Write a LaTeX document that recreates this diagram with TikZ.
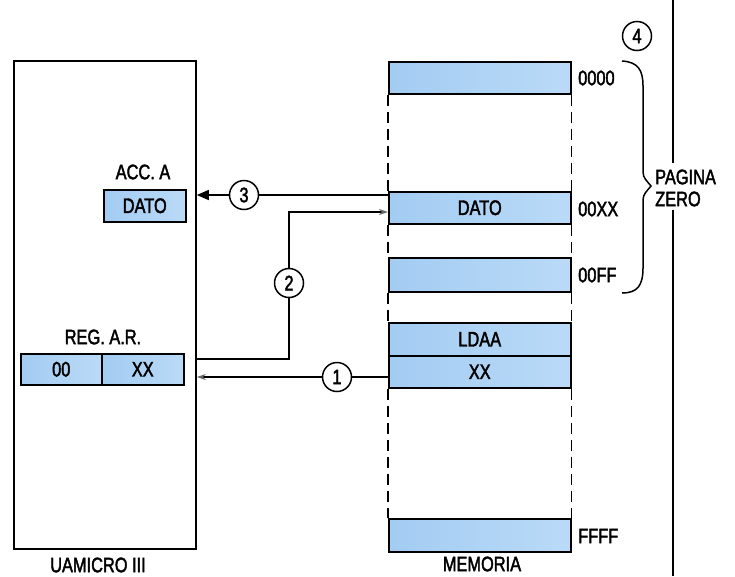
\documentclass[tikz,border=0pt]{standalone}
\usepackage{fontspec}
\setmainfont{Liberation Sans}[FakeStretch=0.78,FakeBold=2]
\usetikzlibrary{arrows.meta}
\definecolor{blueA}{RGB}{163,204,242}
\definecolor{blueB}{RGB}{186,218,247}
\tikzset{
  txt/.style={font=\fontsize{21}{24}\selectfont, inner sep=0pt},
  cpubox/.style={draw, line width=1.8pt, minimum width=182pt, minimum height=488pt, anchor=north west, inner sep=0pt},
  cell/.style={draw, line width=1.5pt, left color=blueA, right color=blueB, anchor=north west, inner sep=0pt, minimum width=182pt, txt},
  regcell/.style={draw, line width=1.5pt, left color=blueA, right color=blueB, anchor=north west, inner sep=0pt, txt},
  num/.style={circle, draw, fill=white, line width=1.5pt, minimum size=29pt, inner sep=0pt, font=\fontsize{21}{23}\selectfont},
  dashside/.style={line width=1.3pt, dash pattern=on 11pt off 6pt},
  wire/.style={line width=1.4pt},
  solidtip/.style={-{Triangle[length=12pt,width=10pt]}},
  lighttip/.style={-{Stealth[length=9pt,width=6pt,color=black!60]}},
  brace/.style={line width=1.5pt},
}
\begin{document}
\begin{tikzpicture}[x=1pt,y=-1pt]
\useasboundingbox (0,0) rectangle (735,576);
% CPU
\node[cpubox] (cpu) at (13,60) {};
\node[txt] (uam) at (98,565) {UAMICRO III};
\node[txt] (acclbl) at (143,172) {ACC. A};
\node[regcell, minimum width=82pt, minimum height=32pt] (acc) at (103,189) {DATO};
\node[txt] (reglbl) at (103,337) {REG. A.R.};
\node[regcell, minimum width=81pt, minimum height=31pt] (reg0) at (20,353) {00};
\node[regcell, minimum width=82pt, minimum height=31pt] (regx) at (101,353) {XX};
% memory
\node[cell, minimum height=32pt] (m0) at (388,61) {};
\node[cell, minimum height=32pt] (mdato) at (388,191) {DATO};
\node[cell, minimum height=34pt] (mff) at (388,257) {};
\node[cell, minimum height=33pt] (mldaa) at (388,322) {LDAA};
\node[cell, minimum height=32pt] (mxx) at (388,355) {XX};
\node[cell, minimum height=33pt] (mffff) at (388,518) {};
\node[txt] (mem) at (482,564) {MEMORIA};
\foreach \a/\b in {m0/mdato, mdato/mff, mff/mldaa, mxx/mffff}{
  \draw[dashside] (\a.south west) -- (\b.north west);
  \draw[dashside] (\a.south east) -- (\b.north east);
}
% addresses
\node[txt, anchor=west] (l0) at (578,78) {0000};
\node[txt, anchor=west] (lxx) at (578,209) {00XX};
\node[txt, anchor=west] (lff) at (578,275) {00FF};
\node[txt, anchor=west] (lffff) at (578,536) {FFFF};
% brace
\draw[brace] (622,61) .. controls (638,62) and (643,70) .. (643,86) -- (643,172)
  .. controls (643,178) and (647,181) .. (651,186)
  .. controls (647,191) and (643,194) .. (643,200) -- (643,268)
  .. controls (643,286) and (637,293) .. (622,293);
\node[txt, anchor=west] (pag) at (655,177) {PAGINA};
\node[txt, anchor=west] (zero) at (655,199) {ZERO};
% right line
\coordinate (r1) at (673,0);
\coordinate (r2) at (673,163);
\coordinate (r3) at (673,210);
\coordinate (r4) at (673,576);
\draw[line width=1.3pt] (r1) -- (r2);
\draw[line width=1.3pt] (r3) -- (r4);
\node[num] (c4) at (637,36) {4};
% arrows
\node[num] (c3) at (244,195) {3};
\node[num] (c2) at (289,283) {2};
\node[num] (c1) at (337,377) {1};
\draw[wire] (mdato.west |- c3) -- (c3);
\draw[wire, solidtip] (c3) -- (cpu.east |- c3);
\coordinate (a2s) at (195,359);
\coordinate (a2e) at (388,212);
\draw[wire] (a2s) -| (c2);
\draw[wire, lighttip] (c2) |- (a2e);
\draw[wire] (mxx.west |- c1) -- (c1);
\draw[wire, lighttip] (c1) -- (cpu.east |- c1);
\end{tikzpicture}
\end{document}
